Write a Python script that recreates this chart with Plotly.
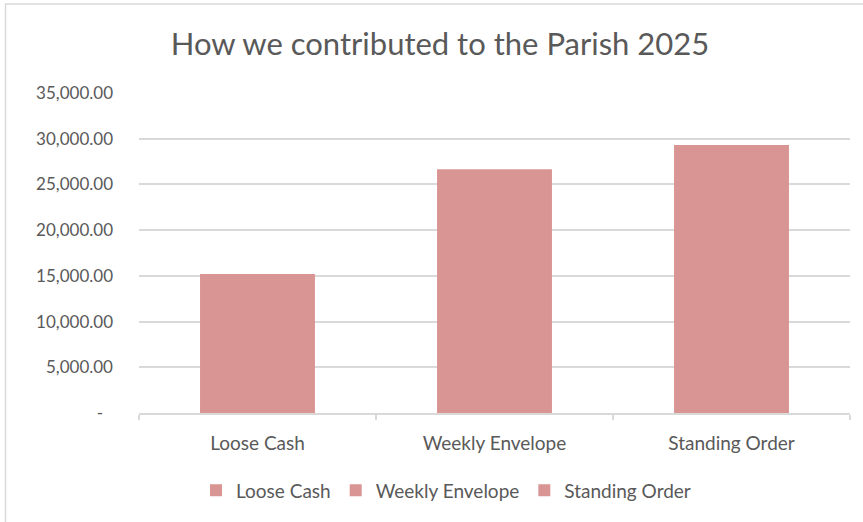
import plotly.graph_objects as go

categories = ["Loose Cash", "Weekly Envelope", "Standing Order"]
values = [15200, 26650, 29300]
tick_vals = [0, 5000, 10000, 15000, 20000, 25000, 30000, 35000]
tick_text = ["-\u2007", "5,000.00", "10,000.00", "15,000.00", "20,000.00", "25,000.00", "30,000.00", "35,000.00"]
title_text = "How we contributed to the Parish 2025"

BAR = "#D99594"
TXT = "#595959"
GRID = "#D9D9D9"
FONT = "Lato, Carlito, Calibri, sans-serif"

fig = go.Figure()
for c, v in zip(categories, values):
    fig.add_trace(go.Bar(x=[c], y=[v], name=c, marker=dict(color=BAR, line=dict(width=0)),
                         hoverinfo="x+y"))

W, H = 863, 522
L, R, T, B = 139, 13, 93, 107
pw, ph = W - L - R, H - T - B

def px_x(p):
    return (p - L) / pw

def px_y(p):
    return (H - B - p) / ph

fig.update_layout(
    width=W, height=H,
    margin=dict(l=L, r=R, t=T, b=B),
    paper_bgcolor="white", plot_bgcolor="white",
    barmode="relative",
    bargap=0.515,
    font=dict(family=FONT, color=TXT, size=17),
    title=dict(text=title_text, xref="container", yref="container",
               x=440 / W, xanchor="center", y=1 - 44 / H, yanchor="middle",
               font=dict(size=31, color=TXT, family=FONT)),
    xaxis=dict(
        categoryorder="array", categoryarray=categories,
        showline=True, linecolor=GRID, linewidth=1.5,
        ticks="outside", tickson="boundaries", ticklen=5, tickcolor=GRID, tickwidth=1.5,
        tickfont=dict(size=19, color=TXT), showgrid=False, ticklabelstandoff=12,
    ),
    yaxis=dict(
        range=[0, 35000], tickvals=tick_vals, ticktext=tick_text,
        showgrid=True, gridcolor=GRID, gridwidth=1.5, zeroline=False,
        showline=False, ticks="", ticklabelstandoff=25,
        tickfont=dict(size=17, color=TXT),
    ),
    legend=dict(orientation="h", x=px_x(446), xanchor="center", y=px_y(493), yanchor="middle",
                font=dict(size=19, color=TXT), traceorder="normal"),
    showlegend=True,
    shapes=[
        dict(type="rect", xref="paper", yref="paper",
             x0=px_x(5.5), x1=px_x(880), y0=px_y(540), y1=px_y(3.5),
             line=dict(color=GRID, width=1.5), fillcolor="rgba(0,0,0,0)", layer="below"),
    ],
)

fig.write_html("out.html", config={"displayModeBar": False},
               post_script="document.body.style.margin='0';")
